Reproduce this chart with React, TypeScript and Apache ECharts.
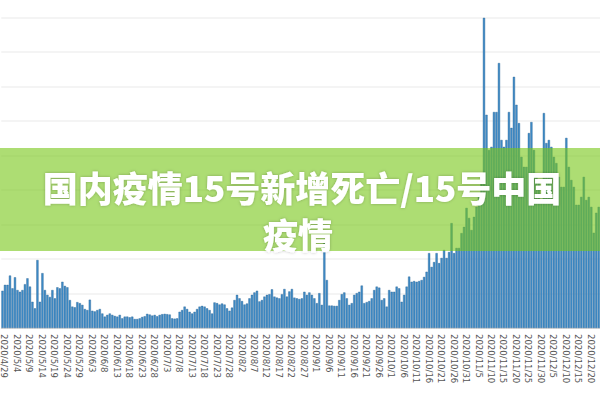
import React, { useEffect, useRef } from "react";
import * as echarts from "echarts";

const startDate = "2020/4/28";
const dayCount = 240;

const valuesApr28toJun6 = [108,125,125,152,115,147,110,105,110,127,144,120,76,57,197,76,159,110,96,90,110,86,118,115,134,122,118,81,62,60,75,72,67,55,52,82,50,48,52,55];
const valuesJun7toJul16 = [42,33,38,42,38,35,33,38,28,33,33,31,33,26,26,28,32,34,41,39,36,38,34,38,40,41,40,39,28,27,28,47,52,62,55,47,42,47,55,62];
const valuesJul17toAug25 = [64,62,57,52,42,74,72,68,71,68,57,50,59,81,96,86,78,68,71,86,96,103,108,77,81,91,96,98,112,91,88,86,98,113,91,106,113,88,86,84];
const valuesAug26toOct4 = [86,105,96,103,96,86,72,101,67,255,139,65,65,64,64,81,98,103,86,67,72,96,101,105,123,72,75,78,86,110,120,117,81,86,62,110,105,105,120,115];
const valuesOct5toNov13 = [76,96,120,149,134,136,134,136,139,148,163,217,177,191,217,188,203,226,203,220,304,217,232,232,275,293,348,319,284,322,351,380,438,899,618,516,525,626,626,768];
const valuesNov14toDec23 = [545,525,545,626,580,728,647,594,496,467,467,565,597,516,449,429,371,623,536,545,525,496,478,438,409,409,551,467,429,409,357,357,380,438,371,380,351,276,334,351];

const titleLine1 = "国内疫情15号新增死亡/15号中国";
const titleLine2 = "疫情";

function buildDates(start: string, n: number): string[] {
  const [y, m, d] = start.split("/").map(Number);
  const out: string[] = [];
  const dt = new Date(y, m - 1, d);
  for (let i = 0; i < n; i++) {
    out.push(`${dt.getFullYear()}/${dt.getMonth() + 1}/${dt.getDate()}`);
    dt.setDate(dt.getDate() + 1);
  }
  return out;
}

export default function App() {
  const ref = useRef<HTMLDivElement>(null);
  useEffect(() => {
    if (!ref.current) return;
    const chart = echarts.init(ref.current, null, { renderer: "svg" });
    const categories = buildDates(startDate, dayCount);
    const values = [
      ...valuesApr28toJun6,
      ...valuesJun7toJul16,
      ...valuesJul17toAug25,
      ...valuesAug26toOct4,
      ...valuesOct5toNov13,
      ...valuesNov14toDec23,
    ];
    const titleFont = "900 35px 'Noto Sans CJK SC', sans-serif";
    chart.setOption({
      animation: false,
      backgroundColor: "#ffffff",
      grid: { left: 0, right: 0, top: 17.5, bottom: 72, containLabel: false },
      xAxis: {
        type: "category",
        data: categories,
        boundaryGap: true,
        axisLine: { show: true, lineStyle: { color: "#d8d8d8", width: 1 } },
        axisTick: { show: false },
        axisLabel: {
          interval: (index: number) => index % 5 === 1,
          rotate: -90,
          margin: 6,
          fontSize: 9.5,
          color: "#555555",
          fontFamily: "DejaVu Sans Condensed, Noto Sans, sans-serif",
        },
      },
      yAxis: {
        type: "value",
        min: 0,
        max: 900,
        interval: 100,
        axisLabel: { show: false },
        axisLine: { show: false },
        axisTick: { show: false },
        splitLine: { show: true, lineStyle: { color: "#f0f0f0", width: 1.5 } },
      },
      series: [
        {
          type: "bar",
          data: values,
          barCategoryGap: "12%",
          itemStyle: { color: "#3e8cc8", borderColor: "#2d6595", borderWidth: 0.4 },
        },
      ],
      graphic: [
        {
          type: "rect",
          z: 100,
          shape: { x: 0, y: 148, width: 600, height: 103 },
          style: { fill: "rgba(118,198,22,0.6)" },
        },
        {
          type: "text",
          z: 101,
          x: 302,
          y: 186,
          style: {
            text: titleLine1,
            fill: "#ffffff",
            font: titleFont,
            textAlign: "center",
            textVerticalAlign: "middle",
            textShadowColor: "rgba(0,0,0,0.25)",
            textShadowBlur: 3,
          },
        },
        {
          type: "text",
          z: 101,
          x: 298,
          y: 233,
          style: {
            text: titleLine2,
            fill: "#ffffff",
            font: titleFont,
            textAlign: "center",
            textVerticalAlign: "middle",
            textShadowColor: "rgba(0,0,0,0.25)",
            textShadowBlur: 3,
          },
        },
      ],
    });
    return () => chart.dispose();
  }, []);
  return (
    <div
      ref={ref}
      style={{ position: "absolute", left: 0, top: 0, width: 600, height: 400 }}
    />
  );
}
